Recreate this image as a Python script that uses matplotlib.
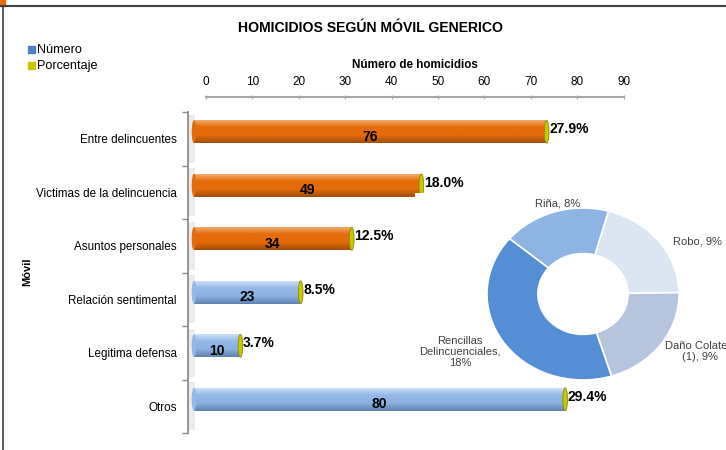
"""
Homicidios según móvil genérico: barras horizontales + dona
"""

import numpy as np
import matplotlib
matplotlib.use("Agg")
import matplotlib.pyplot as plt
from matplotlib.patches import Rectangle, Ellipse
from matplotlib.colors import LinearSegmentedColormap

matplotlib.rcParams['font.family'] = ['Liberation Sans', 'DejaVu Sans']

# datos
categorias = ['Entre delincuentes', 'Victimas de la delincuencia', 'Asuntos personales',
              'Relación sentimental', 'Legitima defensa', 'Otros']
numeros = [76, 49, 34, 23, 10, 80]
porcentajes = [27.9, 18.0, 12.5, 8.5, 3.7, 29.4]
grupo_naranja = [True, True, True, False, False, False]

dona_etiquetas = ['Riña, 8%', 'Robo, 9%', 'Daño Colateral', 'Rencillas\nDelincuenciales,\n18%']
dona_valores = [8, 9, 9, 18]
dona_colores = ['#8EB4E3', '#DCE6F2', '#B6C4DE', '#558ED5']

W, H = 726, 450


def rect_px(x0, y0, x1, y1):
    """rectángulo en pixeles (origen arriba-izquierda) -> fracción de figura"""
    return [x0 / W, 1 - y1 / H, (x1 - x0) / W, (y1 - y0) / H]


fig = plt.figure(figsize=(W / 100, H / 100), dpi=100)
fig.patch.set_facecolor('white')

# marco
fig.add_artist(plt.Line2D([0, 1], [1 - 6 / H, 1 - 6 / H], color='#404040', lw=1.5))
fig.add_artist(plt.Line2D([3 / W, 3 / W], [0, 1 - 6 / H], color='#404040', lw=1.2))
fig.add_artist(Rectangle((0, 1 - 6 / H), 5 / W, 6 / H, color='#E46C0A', transform=fig.transFigure))

# titulo y leyenda
fig.text(371 / W, 1 - 28 / H, 'HOMICIDIOS SEGÚN MÓVIL GENERICO', ha='center', va='center',
         fontsize=10.1, fontweight='bold')
for yy, col, txt in [(50, '#4F81BD', 'Número'), (66, '#C8C800', 'Porcentaje')]:
    fig.add_artist(Rectangle((28 / W, 1 - (yy + 3) / H), 7 / W, 7 / H, color=col,
                             transform=fig.transFigure))
    fig.text(37 / W, 1 - yy / H, txt, ha='left', va='center', fontsize=9.1)

fig.text(27 / W, 1 - 272 / H, 'Móvil', rotation=90, ha='center', va='center',
         fontsize=8, fontweight='bold')

# eje principal
escala = 4.64  # px por unidad
x_izq = -6 / escala
ax = fig.add_axes(rect_px(188, 112, 194 + 90 * escala, 433))
ax.set_xlim(x_izq, 90)
ax.set_ylim(5.5, -0.5)
for s in ['top', 'right', 'bottom']:
    ax.spines[s].set_visible(False)
ax.spines['left'].set_color('#8C8C8C')
ax.spines['left'].set_linewidth(1.3)
ax.set_xticks([])
ax.set_yticks(range(len(categorias)))
ax.set_yticklabels(categorias, fontsize=8.4)
ax.tick_params(axis='y', which='major', length=0, pad=8)
ax.set_yticks(np.arange(-0.5, 6, 1), minor=True)
ax.tick_params(axis='y', which='minor', length=4, color='#8C8C8C', width=1)
ax.patch.set_alpha(0)

# sombra de la pared
for i in range(len(categorias)):
    ax.add_patch(Rectangle((x_izq, i - 0.45), 1.6, 0.9, color='#D9D9D9', alpha=0.5, lw=0))

naranja = LinearSegmentedColormap.from_list('nar', ['#F9B27A', '#E46C0A', '#E46C0A', '#A24C06'])
azul = LinearSegmentedColormap.from_list('azu', ['#D5E5FA', '#95B9E8', '#8DB1E0', '#5F82B0'])
grad = np.linspace(0, 1, 64).reshape(-1, 1)

alto = 0.43
desp = -0.13
for i, (n, p, nar) in enumerate(zip(numeros, porcentajes, grupo_naranja)):
    yc = i + desp
    cmap = naranja if nar else azul
    r = Rectangle((0, yc - alto / 2), n, alto, facecolor='none', edgecolor='none')
    ax.add_patch(r)
    im = ax.imshow(grad, cmap=cmap, aspect='auto', extent=(0, n, yc + alto / 2, yc - alto / 2),
                   zorder=2)
    im.set_clip_path(r)
    ax.add_patch(Ellipse((0, yc), 1.0, alto, facecolor=cmap(0.4), edgecolor='none', zorder=2))
    ax.add_patch(Ellipse((n, yc), 1.0, alto, facecolor='#C8C800', edgecolor='#8F8F00', lw=0.6,
                         zorder=3))
    ax.text(n / 2, yc + 0.09, f'{n}', ha='center', va='center', fontsize=10, fontweight='bold',
            zorder=4)
    ax.text(n + 0.6, yc - 0.05, f'{p:.1f}%', ha='left', va='center', fontsize=10,
            fontweight='bold', zorder=4)
ax.set_xlim(x_izq, 90)
ax.set_ylim(5.5, -0.5)

# eje superior
ax_top = fig.add_axes(rect_px(206, 97, 206 + 90 * escala, 98))
ax_top.set_xlim(0, 90)
ax_top.set_yticks([])
for s in ['left', 'right', 'bottom']:
    ax_top.spines[s].set_visible(False)
ax_top.spines['top'].set_color('#A6A6A6')
ax_top.spines['top'].set_linewidth(1.5)
ax_top.xaxis.tick_top()
ax_top.set_xticks(range(0, 91, 10))
ax_top.tick_params(axis='x', direction='inout', length=3, color='#A6A6A6', labelsize=8.5, pad=5)
ax_top.xaxis.set_label_position('top')
ax_top.set_xlabel('Número de homicidios', fontsize=8.4, fontweight='bold', labelpad=6)
ax_top.patch.set_alpha(0)

# fondo blanco del grafico de dona
ax_bg = fig.add_axes(rect_px(415, 193, 726, 385))
ax_bg.set_xticks([])
ax_bg.set_yticks([])
for s in ax_bg.spines.values():
    s.set_visible(False)
ax_bg.set_facecolor('white')

# dona (ligeramente achatada, como en el original)
ax_pie = fig.add_axes(rect_px(583 - 96, 294 - 86, 583 + 96, 294 + 86))
ax_pie.pie(dona_valores, colors=dona_colores, startangle=140, counterclock=False,
           radius=1, wedgeprops=dict(width=0.53, edgecolor='white', linewidth=1.2))
ax_pie.set_aspect('auto')
ax_pie.set_xlim(-1, 1)
ax_pie.set_ylim(-1, 1)
ax_pie.axis('off')

estilo = dict(fontsize=8, color='#404040', linespacing=1.1)
fig.text(558 / W, 1 - 203 / H, dona_etiquetas[0], ha='center', va='center', **estilo)
fig.text(697 / W, 1 - 242 / H, dona_etiquetas[1], ha='center', va='center', **estilo)
fig.text(665 / W, 1 - 346 / H, dona_etiquetas[2], ha='left', va='center', **estilo)
fig.text(700 / W, 1 - 357 / H, '(1), 9%', ha='center', va='center', **estilo)
fig.text(460 / W, 1 - 352 / H, dona_etiquetas[3], ha='center', va='center', **estilo)

fig.savefig('out.png', dpi=100)
